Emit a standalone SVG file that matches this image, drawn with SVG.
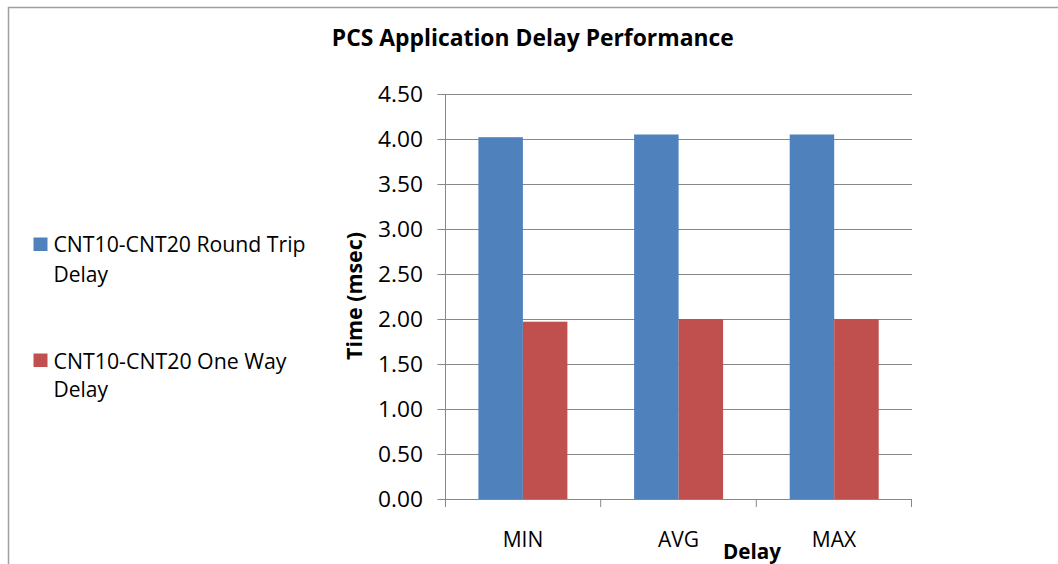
<svg xmlns="http://www.w3.org/2000/svg" width="1058" height="564" viewBox="0 0 1058 564">
<style>
text { font-family: "Open Sans", "Liberation Sans", sans-serif; fill: #000; }
.t { font-size: 21px; }
.b { font-weight: bold; }
.grid { stroke: #888; stroke-width: 1; fill: none; }
.blue { fill: #4F81BD; }
.red { fill: #C0504D; }
.ylab { font-size: 21px; }
</style>
<rect x="0" y="0" width="1058" height="564" fill="#fff"/>
<g id="frame">
<path d="M8.5 564 V7.5 H1058" fill="none" stroke="#A0A0A0" stroke-width="1.5"/>
</g>
<g id="title">
<text x="532.8" y="46" class="b" font-size="23.5" text-anchor="middle" textLength="402" lengthAdjust="spacingAndGlyphs">PCS Application Delay Performance</text>
</g>
<g id="gridlines">
<path class="grid" d="M437.5 94.5 H912 M437.5 139.5 H912 M437.5 184.5 H912 M437.5 229.5 H912 M437.5 274.5 H912 M437.5 319.5 H912 M437.5 364.5 H912 M437.5 409.5 H912 M437.5 454.5 H912"/>
</g>
<g id="bars">
<rect class="blue" x="478.4" y="137.2" width="44.5" height="361.8"/>
<rect class="red" x="522.9" y="321.7" width="44.5" height="177.3"/>
<rect class="blue" x="634.1" y="134.5" width="44.5" height="364.5"/>
<rect class="red" x="678.6" y="319" width="44.5" height="180"/>
<rect class="blue" x="789.7" y="134.5" width="44.5" height="364.5"/>
<rect class="red" x="834.2" y="319" width="44.5" height="180"/>
</g>
<g id="axes">
<path class="grid" d="M445.5 94 V507 M437.5 499.5 H912 M600.7 499 V507 M756.3 499 V507 M911.5 499 V507"/>
</g>
<g id="ylabels">
<text class="ylab" x="378" y="101.8" textLength="45" lengthAdjust="spacingAndGlyphs">4.50</text>
<text class="ylab" x="378" y="146.8" textLength="45" lengthAdjust="spacingAndGlyphs">4.00</text>
<text class="ylab" x="378" y="191.8" textLength="45" lengthAdjust="spacingAndGlyphs">3.50</text>
<text class="ylab" x="378" y="236.8" textLength="45" lengthAdjust="spacingAndGlyphs">3.00</text>
<text class="ylab" x="378" y="281.8" textLength="45" lengthAdjust="spacingAndGlyphs">2.50</text>
<text class="ylab" x="378" y="326.8" textLength="45" lengthAdjust="spacingAndGlyphs">2.00</text>
<text class="ylab" x="378" y="371.8" textLength="45" lengthAdjust="spacingAndGlyphs">1.50</text>
<text class="ylab" x="378" y="416.8" textLength="45" lengthAdjust="spacingAndGlyphs">1.00</text>
<text class="ylab" x="378" y="461.8" textLength="45" lengthAdjust="spacingAndGlyphs">0.50</text>
<text class="ylab" x="378" y="506.8" textLength="45" lengthAdjust="spacingAndGlyphs">0.00</text>
</g>
<g id="xlabels">
<text class="ylab" x="523" y="546.5" text-anchor="middle">MIN</text>
<text class="ylab" x="678.5" y="546.5" text-anchor="middle">AVG</text>
<text class="ylab" x="834" y="546.5" text-anchor="middle">MAX</text>
</g>
<g id="axis-titles">
<text class="t b" x="752" y="558.5" text-anchor="middle" textLength="58" lengthAdjust="spacingAndGlyphs">Delay</text>
<text class="t b" transform="translate(362 296) rotate(-90)" x="0" y="0" text-anchor="middle" textLength="128" lengthAdjust="spacingAndGlyphs">Time (msec)</text>
</g>
<g id="legend">
<rect class="blue" x="33.5" y="237.5" width="14" height="13.5"/>
<text class="t" x="53.5" y="252" textLength="252" lengthAdjust="spacingAndGlyphs">CNT10-CNT20 Round Trip</text>
<text class="t" x="53.5" y="281.5">Delay</text>
<rect class="red" x="33.5" y="353.5" width="14" height="13.5"/>
<text class="t" x="53.5" y="368.5" textLength="233" lengthAdjust="spacingAndGlyphs">CNT10-CNT20 One Way</text>
<text class="t" x="53.5" y="397">Delay</text>
</g>
</svg>
